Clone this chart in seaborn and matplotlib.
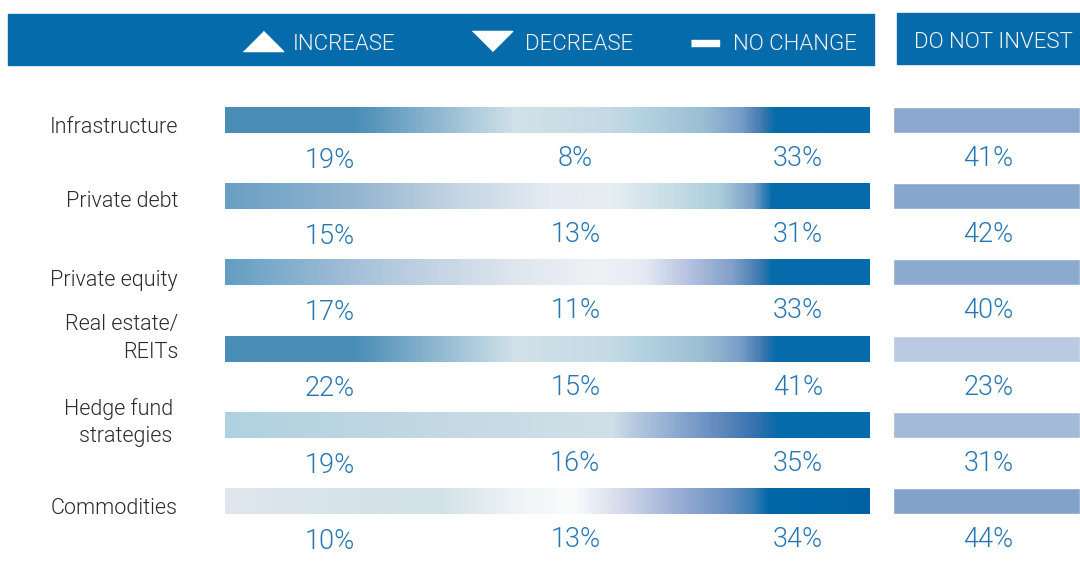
import matplotlib
matplotlib.use("Agg")
import matplotlib.pyplot as plt
import numpy as np
import pandas as pd
import seaborn as sns
from matplotlib.colors import LinearSegmentedColormap
from matplotlib.patches import Rectangle

# data
assets = ["Infrastructure", "Private debt", "Private equity",
          "Real estate/\nREITs", "Hedge fund \nstrategies ", "Commodities"]
increase = [19, 15, 17, 22, 19, 10]
decrease = [8, 13, 11, 15, 16, 13]
no_change = [33, 31, 33, 41, 35, 34]
do_not_invest = [41, 42, 40, 23, 31, 44]
legend_labels = ["INCREASE", "DECREASE", "NO CHANGE"]
dni_title = "DO NOT INVEST"

df = pd.DataFrame({"asset": assets, "increase": increase, "decrease": decrease,
                   "no_change": no_change, "dni": do_not_invest, "full": 1.0})

# gradient stops per row (style only)
DARK = "#066BAA"
GRADIENTS = [
    [(0, "#4A8DB7"), (0.2, "#4A8DB7"), (0.45, "#D2E1E9"), (0.6, "#C4DAE5"), (0.66, "#B0D0E0"),
     (0.74, "#9DBFD3"), (0.8, "#7A9FC8"), (0.835, "#3F78B0"), (0.855, DARK), (1, DARK)],
    [(0, "#6AA0C4"), (0.2, "#93B4CF"), (0.35, "#C2D4E3"), (0.5, "#E4EBF2"), (0.6, "#E6EEF2"),
     (0.7, "#C4DCE6"), (0.77, "#AACCDC"), (0.82, "#7A9FC6"), (0.85, DARK), (1, DARK)],
    [(0, "#659EC4"), (0.25, "#B3C9DD"), (0.45, "#DFE6EE"), (0.58, "#EEF2F6"), (0.65, "#E6EAF4"),
     (0.72, "#B6C2E0"), (0.79, "#7F9FCB"), (0.83, "#3F7AB2"), (0.85, DARK), (1, DARK)],
    [(0, "#4A8DB7"), (0.2, "#4A8DB7"), (0.45, "#D2E1E9"), (0.6, "#C4DAE5"), (0.66, "#B0D0E0"),
     (0.74, "#9DBFD3"), (0.8, "#7A9FC8"), (0.835, "#3F78B0"), (0.855, DARK), (1, DARK)],
    [(0, "#B0D2E0"), (0.3, "#C2D8E2"), (0.6, "#D0E0E8"), (0.63, "#BACCE2"), (0.7, "#8CAAD0"),
     (0.78, "#5A84BA"), (0.83, "#2E70AE"), (0.86, DARK), (1, DARK)],
    [(0, "#DFE6EE"), (0.3, "#D2E2E8"), (0.33, "#D2E2E8"), (0.45, "#EEF3F6"), (0.54, "#FAFCFC"),
     (0.62, "#D2D8EA"), (0.7, "#9CB0D6"), (0.78, "#6A90C2"), (0.82, "#3A7EB4"), (0.845, "#0068A8"),
     (1, "#0062A4")],
]

sns.set_theme(style="white")
plt.rcParams["font.family"] = ["Roboto", "DejaVu Sans"]
LIGHT = 300  # Roboto-Light.ttf

W, H = 1080, 578
fig = plt.figure(figsize=(W / 100, H / 100), dpi=100)

# overlay in pixel units for the header boxes
ov = fig.add_axes([0, 0, 1, 1], zorder=0)
ov.set_xlim(0, W)
ov.set_ylim(H, 0)
ov.axis("off")
ov.add_patch(Rectangle((8, 14), 866, 51, color=DARK))
ov.add_patch(Rectangle((897, 13), 183, 51, color=DARK))
tri_up = [(-1, -0.5), (1, -0.5), (0, 0.5)]
tri_dn = [(-1, 0.5), (1, 0.5), (0, -0.5)]
dash = [(-2.2, -0.5), (2.2, -0.5), (2.2, 0.5), (-2.2, 0.5)]
ov.plot([263], [41], marker=tri_up, markersize=29, color="white", ls="none")
ov.plot([492], [41], marker=tri_dn, markersize=29, color="white", ls="none")
ov.plot([705], [42.5], marker=dash, markersize=19.5, color="white", ls="none")
for x, lab in zip([293, 525, 733], legend_labels):
    ov.text(x, 44, lab, color="#F4F4F4", fontsize=16, fontweight=LIGHT,
            ha="left", va="center")
ov.text(993, 42, dni_title, color="#F4F4F4", fontsize=16, fontweight=LIGHT,
        ha="center", va="center")

# main rows
row_top, row_bottom = -0.59, 5.774
ax_pos_y = (1 - 560 / H, (560 - 75) / H)
ax = fig.add_axes([225 / W, ax_pos_y[0], 645 / W, ax_pos_y[1]], zorder=1)
ax_d = fig.add_axes([893 / W, ax_pos_y[0], 187 / W, ax_pos_y[1]], zorder=1)

bar_h = 0.34
grad = np.linspace(0, 1, 600)[None, :]
for i, stops in enumerate(GRADIENTS):
    cmap = LinearSegmentedColormap.from_list(f"row{i}", stops)
    ax.imshow(grad, extent=(0, 1, i + bar_h / 2, i - bar_h / 2), cmap=cmap,
              aspect="auto", interpolation="bilinear")

pct_color = "#2676B4"
cols = [("increase", 0.163, 0.53), ("decrease", 0.543, 0.505), ("no_change", 0.888, 0.505)]
for i, row in df.iterrows():
    for col, xf, dy in cols:
        ax.text(xf, i + dy, f"{row[col]}%", color=pct_color, fontsize=19.5,
                fontweight=LIGHT, ha="center", va="center")

label_nudge = [0.1, 0.07, 0.1, -0.13, -0.03, 0.1]
for i, (lab, dy) in enumerate(zip(df["asset"], label_nudge)):
    ax.text(-0.073, i + dy, lab, color="#2A2A2A", fontsize=15.5, fontweight=LIGHT,
            ha="right", va="center", multialignment="right", linespacing=1.4)

ax.set_xlim(0, 1)
ax.set_ylim(row_bottom, row_top)
ax.axis("off")

# do-not-invest column, colour encodes the share
dni_cmap = LinearSegmentedColormap.from_list("dni", ["#F3F3FB", "#5985B8"])
sns.barplot(data=df, y="asset", x="full", hue="dni", palette=dni_cmap,
            hue_norm=(0, 60), dodge=False, width=bar_h, legend=False,
            saturation=1, orient="h", ax=ax_d)
for i, v in enumerate(df["dni"]):
    ax_d.text(0.51, i + 0.505, f"{v}%", color=pct_color, fontsize=19.5,
              fontweight=LIGHT, ha="center", va="center")
ax_d.set_xlim(0, 1)
ax_d.set_ylim(row_bottom, row_top)
ax_d.axis("off")

fig.savefig("out.png", dpi=100)
